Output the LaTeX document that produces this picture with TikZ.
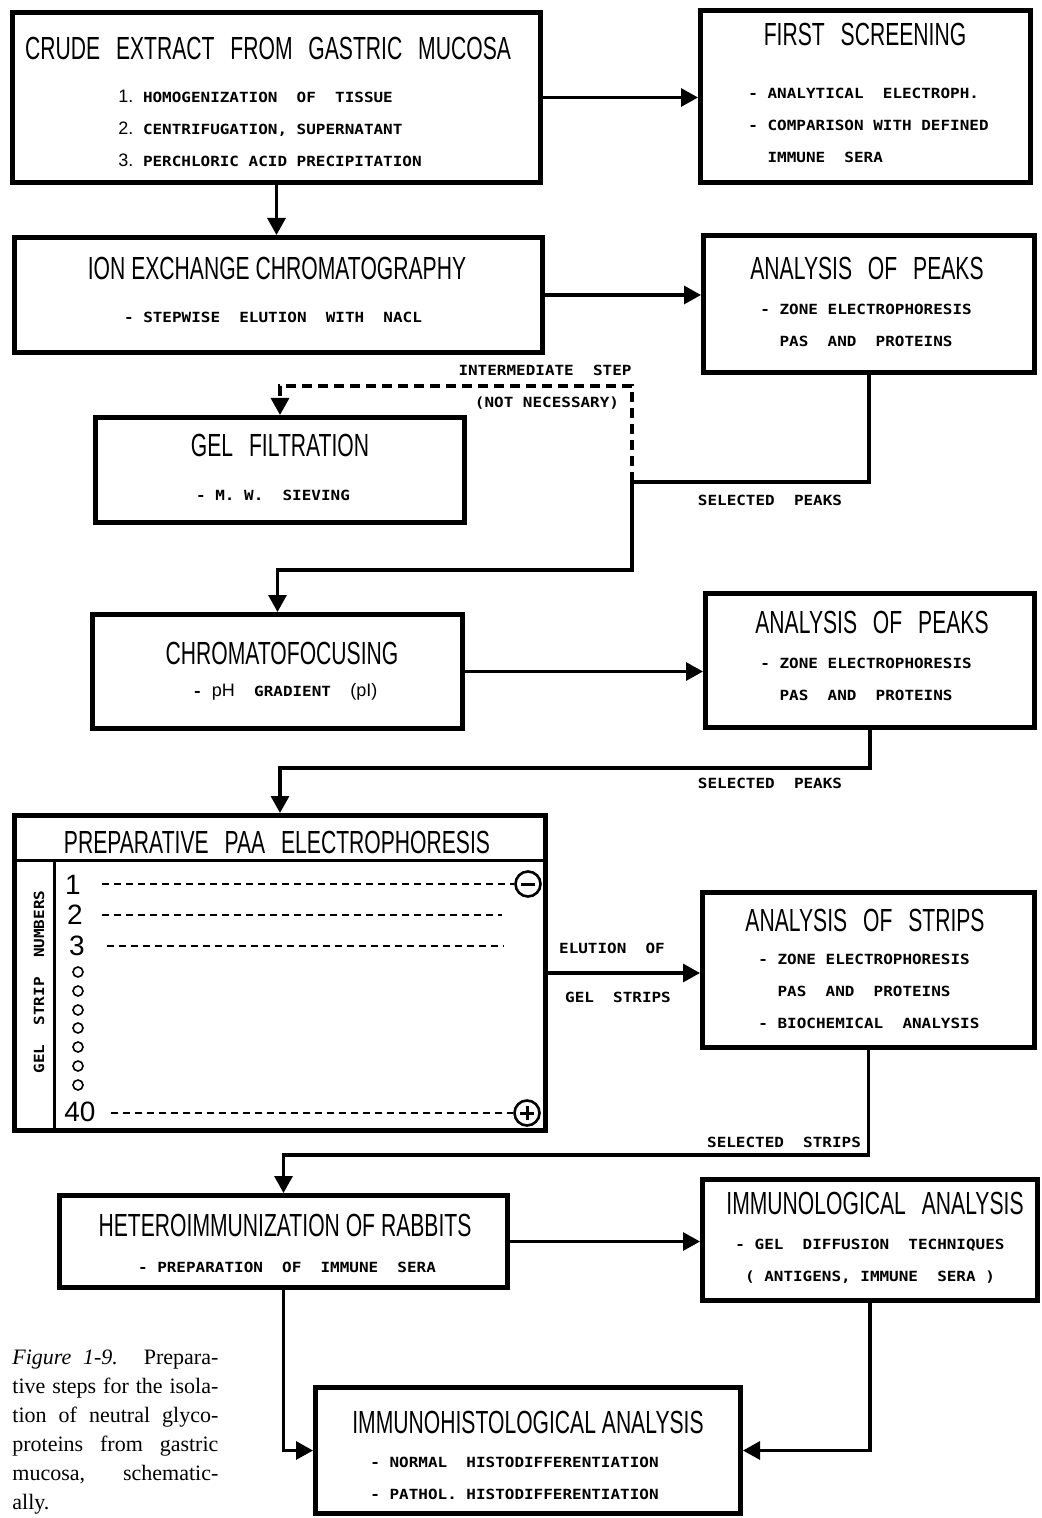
\documentclass[tikz,border=0pt]{standalone}
\usepackage{fontspec}
\setmainfont{Liberation Serif}
\newfontfamily\ttlfont[FakeStretch=0.66]{Liberation Sans}
\newfontfamily\numfont{Liberation Sans}
\newfontfamily\stepfont[FakeStretch=1.14]{DejaVu Sans Mono}
\usetikzlibrary{arrows.meta,positioning,calc}
\newcommand{\wsp}{\hspace{5pt}}
\newcommand{\bignum}[1]{{\numfont\mdseries\fontsize{9}{16}\selectfont #1}}
\tikzset{
    stagebox/.style={draw, line width=2.5pt, inner sep=0pt},
    boxtitle/.style={font=\ttlfont\fontsize{16}{16}\selectfont, inner sep=0pt},
    boxtext/.style={font=\stepfont\bfseries\fontsize{7}{16}\selectfont, inner sep=0pt, align=left},
    flowlabel/.style={font=\stepfont\bfseries\fontsize{7}{16}\selectfont, inner sep=0pt},
    conn/.style={line width=1.6pt, -{Triangle[length=8.5pt,width=9pt]}},
    plainline/.style={line width=1.6pt},
    optconn/.style={conn, dash pattern=on 5pt off 3pt},
    divider/.style={line width=1.5pt},
    stripline/.style={line width=1pt, dash pattern=on 3.5pt off 2.5pt},
    stripnum/.style={font=\numfont\fontsize{14}{14}\selectfont, inner sep=0pt},
    pole/.style={circle, draw, line width=1.3pt, minimum size=12.5pt, inner sep=0pt}
}
\begin{document}
\begin{tikzpicture}[x=0.5pt, y=-0.5pt]
  \fill[white] (0,0) rectangle (1041,1518);
  \useasboundingbox (0,0) rectangle (1041,1518);

  % Row 1: crude extract and first screening
  \node[stagebox, minimum width=264pt, minimum height=85pt] (crude) at (276.5,97.5) {};
  \node[boxtitle] (crude-title) at (268,48) {CRUDE \wsp EXTRACT \wsp FROM \wsp GASTRIC \wsp MUCOSA};
  \node[boxtext, anchor=north west] (crude-steps) at (118,89.4) {
    \bignum{1.}\ HOMOGENIZATION\ \ OF\ \ TISSUE\\
    \bignum{2.}\ CENTRIFUGATION, SUPERNATANT\\
    \bignum{3.}\ PERCHLORIC ACID PRECIPITATION};

  \node[stagebox, minimum width=165pt, minimum height=86pt] (first) at (865.5,96.5) {};
  \node[boxtitle] (first-title) at (865,34) {FIRST \wsp SCREENING};
  \node[boxtext, anchor=north west] (first-steps) at (748,87.9) {
    - ANALYTICAL\ \ ELECTROPH.\\
    - COMPARISON WITH DEFINED\\
    \ \ IMMUNE\ \ SERA};

  % Row 2: ion exchange and analysis of peaks
  \node[stagebox, minimum width=264pt, minimum height=57.5pt] (ion) at (278.5,295) {};
  \node[boxtitle] (ion-title) at (277,268) {ION EXCHANGE CHROMATOGRAPHY};
  \node[boxtext] (ion-steps) at (273,317) {- STEPWISE\ \ ELUTION\ \ WITH\ \ NACL};

  \node[stagebox, minimum width=165.5pt, minimum height=68.5pt] (peaks1) at (869,304) {};
  \node[boxtitle] (peaks1-title) at (867,268) {ANALYSIS \wsp OF \wsp PEAKS};
  \node[boxtext, anchor=north west] (peaks1-steps) at (760,303.9) {
    - ZONE ELECTROPHORESIS\\
    \ \ PAS\ \ AND\ \ PROTEINS};

  % Row 3: optional gel filtration
  \node[stagebox, minimum width=184.5pt, minimum height=52.5pt] (gel) at (280,470) {};
  \node[boxtitle] (gel-title) at (280,445) {GEL \wsp FILTRATION};
  \node[boxtext] (gel-steps) at (273,495) {- M.\ W.\ \ SIEVING};

  % Row 4: chromatofocusing and analysis of peaks
  \node[stagebox, minimum width=185pt, minimum height=57pt] (chroma) at (277.5,671.5) {};
  \node[boxtitle] (chroma-title) at (282,653) {CHROMATOFOCUSING};
  \node[boxtext] (chroma-steps) at (285,692) {- \bignum{pH}\ \ GRADIENT\ \ \bignum{(pI)}};

  \node[stagebox, minimum width=164.5pt, minimum height=67pt] (peaks2) at (870,660.5) {};
  \node[boxtitle] (peaks2-title) at (872,622) {ANALYSIS \wsp OF \wsp PEAKS};
  \node[boxtext, anchor=north west] (peaks2-steps) at (760,657.9) {
    - ZONE ELECTROPHORESIS\\
    \ \ PAS\ \ AND\ \ PROTEINS};

  % Row 5: preparative electrophoresis and analysis of strips
  \node[stagebox, minimum width=265.5pt, minimum height=157.5pt] (paa) at (280,973) {};
  \node[boxtitle] (paa-title) at (277,842) {PREPARATIVE \wsp PAA \wsp ELECTROPHORESIS};
  \coordinate (paa-hdr) at (0,860);
  \coordinate (paa-lane) at (54,860);
  \draw[divider] (paa.west |- paa-hdr) -- (paa.east |- paa-hdr);
  \draw[divider] (paa-lane) -- (paa-lane |- paa.south);
  \node[flowlabel, rotate=90] (paa-axis) at (39,982) {GEL\ \ STRIP\ \ NUMBERS};
  \node[stripnum] (strip1) at (73,885) {1};
  \node[stripnum] (strip2) at (75,915) {2};
  \node[stripnum] (strip3) at (77,946) {3};
  \node[stripnum] (strip40) at (80,1112) {40};
  \foreach \y in {972,991,1010,1028,1047,1066,1085}
    \draw[line width=0.8pt] (78,\y) circle (2.5pt);
  \node[pole] (cathode) at (528,884) {};
  \node[pole] (anode) at (527,1113) {};
  \draw[line width=1.5pt] ([xshift=-3.5pt]cathode.center) -- ([xshift=3.5pt]cathode.center);
  \draw[line width=1.5pt] ([xshift=-3.5pt]anode.center) -- ([xshift=3.5pt]anode.center)
    ([yshift=-3.5pt]anode.center) -- ([yshift=3.5pt]anode.center);
  \draw[stripline] (cathode.west -| 102,0) -- (cathode.west);
  \draw[stripline] (strip2.east -| 102,0) -- (strip2.east -| 502,0);
  \draw[stripline] (strip3.east -| 107,0) -- (strip3.east -| 504,0);
  \draw[stripline] (anode.west -| 111,0) -- (anode.west);

  \node[stagebox, minimum width=166pt, minimum height=77.5pt] (strips) at (868.5,970) {};
  \node[boxtitle] (strips-title) at (865,920) {ANALYSIS \wsp OF \wsp STRIPS};
  \node[boxtext, anchor=north west] (strips-steps) at (758,953.9) {
    - ZONE ELECTROPHORESIS\\
    \ \ PAS\ \ AND\ \ PROTEINS\\
    - BIOCHEMICAL\ \ ANALYSIS};

  % Row 6: immunization and immunological analysis
  \node[stagebox, minimum width=224pt, minimum height=46pt] (hetero) at (283.5,1241.5) {};
  \node[boxtitle] (hetero-title) at (285,1225) {HETEROIMMUNIZATION OF RABBITS};
  \node[boxtext] (hetero-steps) at (287,1267) {- PREPARATION\ \ OF\ \ IMMUNE\ \ SERA};

  \node[stagebox, minimum width=167.5pt, minimum height=60.5pt] (immunol) at (870,1240) {};
  \node[boxtitle] (immunol-title) at (875,1203) {IMMUNOLOGICAL \wsp ANALYSIS};
  \node[boxtext, align=center, anchor=north] (immunol-steps) at (870,1238.9) {
    - GEL\ \ DIFFUSION\ \ TECHNIQUES\\
    ( ANTIGENS, IMMUNE\ \ SERA )};

  % Row 7: immunohistology
  \node[stagebox, minimum width=212.5pt, minimum height=63pt] (histo) at (528,1450.5) {};
  \node[boxtitle] (histo-title) at (528,1422) {IMMUNOHISTOLOGICAL ANALYSIS};
  \node[boxtext, anchor=north west] (histo-steps) at (370,1456.9) {
    - NORMAL\ \ HISTODIFFERENTIATION\\
    - PATHOL. HISTODIFFERENTIATION};

  % Connector labels
  \node[flowlabel] (intstep) at (545,370) {INTERMEDIATE\ \ STEP};
  \node[flowlabel] (notnec) at (547,403) {(NOT NECESSARY)};
  \node[flowlabel] (selpeaks1) at (770,500) {SELECTED\ \ PEAKS};
  \node[flowlabel] (selpeaks2) at (770,783) {SELECTED\ \ PEAKS};
  \node[flowlabel] (elution) at (612,948) {ELUTION\ \ OF};
  \node[flowlabel] (gelstrips) at (618,997) {GEL\ \ STRIPS};
  \node[flowlabel] (selstrips) at (784,1142) {SELECTED\ \ STRIPS};

  % Connectors
  \coordinate (selj) at (632,482);
  \coordinate (dashbend) at (632,386);
  \coordinate (chrombend) at (632,570);
  \coordinate (paabend) at (0,768);
  \coordinate (heterobend) at (0,1155);
  \draw[conn] (crude.east) -- (crude.east -| first.west);
  \draw[conn] (crude.south) -- (crude.south |- ion.north);
  \draw[conn] (ion.east) -- (ion.east -| peaks1.west);
  \draw[plainline] (peaks1.south) |- (selj);
  \draw[optconn] (selj) -- (dashbend) -| (gel.north);
  \draw[conn] (selj) -- (chrombend) -| (chroma.north);
  \draw[conn] (chroma.east) -- (chroma.east -| peaks2.west);
  \draw[conn] (peaks2.south) -- (peaks2.south |- paabend) -| (paa.north);
  \draw[conn] (paa.east) -- (paa.east -| strips.west);
  \draw[conn] (strips.south) -- (strips.south |- heterobend) -| (hetero.north);
  \draw[conn] (hetero.east) -- (hetero.east -| immunol.west);
  \draw[conn] (hetero.south) |- (histo.west);
  \draw[conn] (immunol.south) |- (histo.east);

  % Caption
  \node[anchor=north west, inner sep=0pt, align=left, font=\fontsize{11}{14.5}\selectfont] (caption) at (12,1350) {
    \makebox[103pt][s]{\textit{Figure 1-9.} Prepara-}\\
    \makebox[103pt][s]{tive steps for the isola-}\\
    \makebox[103pt][s]{tion of neutral glyco-}\\
    \makebox[103pt][s]{proteins from gastric}\\
    \makebox[103pt][s]{mucosa, schematic-}\\
    ally.};
\end{tikzpicture}
\end{document}
